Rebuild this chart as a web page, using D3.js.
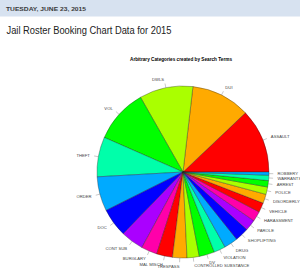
<!DOCTYPE html>
<html><head><meta charset="utf-8">
<script src="https://cdn.jsdelivr.net/npm/d3@7"></script>
<style>
html,body{margin:0;padding:0;background:#fff;}
svg{display:block;}
</style></head>
<body>
<svg id="chart" width="300" height="273"></svg>
<script>
const headerDate = "TUESDAY, JUNE 23, 2015";
const pageTitle = "Jail Roster Booking Chart Data for 2015";
const chartTitle = "Arbitrary Categories created by Search Terms";
const categories = ["ASSAULT","DUI","DWLS","VOL","THEFT","ORDER","DOC","CONT SUB","BURGLARY","MAL MISCH","TRESPASS","CONTROLLED SUBSTANCE","DV","VIOLATION","DRUG","SHOPLIFTING","PAROLE","HARASSMENT","VEHICLE","DISORDERLY","POLICE","ARREST","WARRANTS","ROBBERY"];
const counts = [121,111,101,102,75,65,54,43,30,30,27,23,29,22,26,26,21,19,18,17,14,12,10,6];
const palette = ["#FF0000","#FFAA00","#AAFF00","#00FF00","#00FFAA","#00AAFF","#0000FF","#AA00FF","#FF00AA"];

const svg = d3.select("#chart");
// header band
svg.append("rect").attr("x",0).attr("y",0).attr("width",300).attr("height",16.5).attr("fill","#d7e2f0");
svg.append("text").attr("x",6).attr("y",11.2).text(headerDate)
  .attr("font-family","Liberation Sans, Arial, sans-serif").attr("font-weight","bold")
  .attr("font-size",6.2).attr("fill","#3a3a3a").attr("textLength",80).attr("lengthAdjust","spacingAndGlyphs");
svg.append("text").attr("x",6.5).attr("y",34.3).text(pageTitle)
  .attr("font-family","Liberation Sans, Arial, sans-serif")
  .attr("font-size",10).attr("fill","#222").attr("textLength",165).attr("lengthAdjust","spacingAndGlyphs");
svg.append("text").attr("x",181).attr("y",61).attr("text-anchor","middle").text(chartTitle)
  .attr("font-family","Liberation Sans, Arial, sans-serif").attr("font-weight","bold")
  .attr("font-size",5.2).attr("fill","#000").attr("textLength",102).attr("lengthAdjust","spacingAndGlyphs");

const cx = 183, cy = 172, r = 86;
const g = svg.append("g").attr("transform",`translate(${cx},${cy})`);
const data = categories.map((c,i)=>({cat:c, v:counts[i], i}));
const pie = d3.pie().sort(null).value(d=>d.v).startAngle(Math.PI/2).endAngle(Math.PI/2 - 2*Math.PI);
const arcs = pie(data);
const arc = d3.arc().innerRadius(0).outerRadius(r);
const color = d3.scaleOrdinal().domain(d3.range(categories.length)).range(palette);

g.selectAll("path.slice").data(arcs).join("path").attr("class","slice")
  .attr("d",arc).attr("fill",d=>color(d.data.i)).attr("stroke","#222").attr("stroke-width",0.35);

const mid = d=>(d.startAngle+d.endAngle)/2;
g.selectAll("line.tick").data(arcs).join("line").attr("class","tick")
  .attr("x1",d=>Math.sin(mid(d))*r).attr("y1",d=>-Math.cos(mid(d))*r)
  .attr("x2",d=>Math.sin(mid(d))*r*1.05).attr("y2",d=>-Math.cos(mid(d))*r*1.05)
  .attr("stroke","#777").attr("stroke-width",0.4);

g.selectAll("text.lab").data(arcs).join("text").attr("class","lab")
  .attr("x",d=>Math.sin(mid(d))*r*1.1).attr("y",d=>-Math.cos(mid(d))*r*1.1)
  .attr("dy","0.35em")
  .attr("text-anchor",d=>Math.sin(mid(d))<0?"end":"start")
  .attr("font-family","Liberation Sans, Arial, sans-serif").attr("font-size",4.2).attr("fill","#444")
  .text(d=>d.data.cat);
</script>
</body></html>
